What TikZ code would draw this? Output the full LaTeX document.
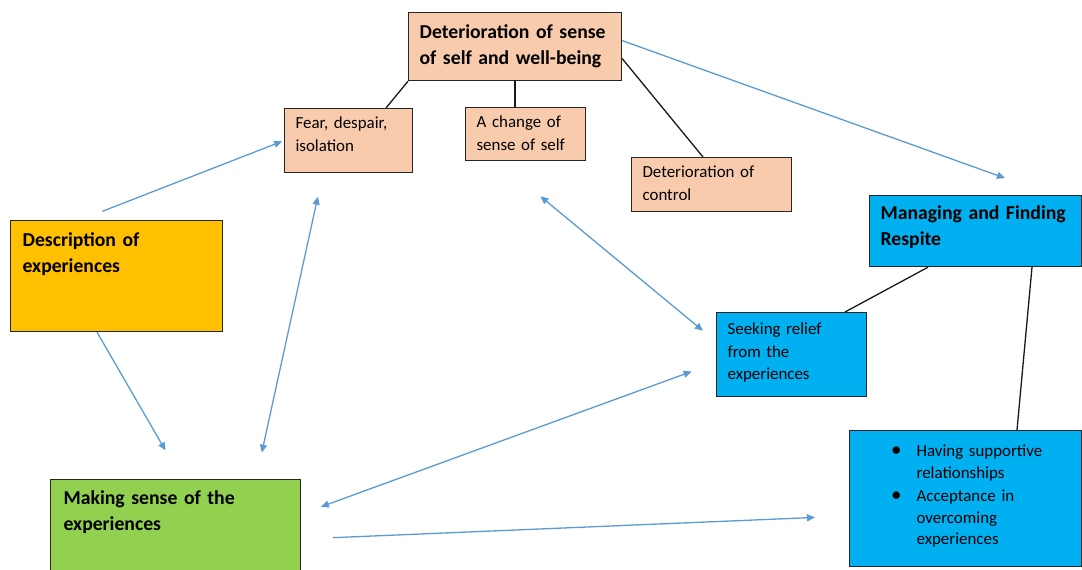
\documentclass[tikz,border=0pt]{standalone}
\usepackage{fontspec}
\setmainfont{Carlito}
\usetikzlibrary{arrows.meta}
\definecolor{Peach}{HTML}{F8CBAD}
\definecolor{Sky}{HTML}{00B0F0}
\definecolor{Amber}{HTML}{FFC000}
\definecolor{Lime}{HTML}{92D050}
\definecolor{LinkBlue}{HTML}{5B9BD5}
\tikzset{
  box/.style={draw=black!85, line width=1.2pt, anchor=north west, inner xsep=11pt, inner ysep=8pt, align=left},
  head/.style={font=\fontsize{19.7}{26}\selectfont\bfseries},
  body/.style={font=\fontsize{16.9}{22.5}\selectfont},
  link/.style={draw=black!90, line width=1.3pt},
  arr/.style={draw=LinkBlue, line width=1.3pt, -{Triangle[length=8pt,width=7pt]}},
  arrs/.style={draw=LinkBlue, line width=1.3pt, {Triangle[length=8pt,width=7pt]}-{Triangle[length=8pt,width=7pt]}},
}

\begin{document}
\begin{tikzpicture}[x=1pt,y=-1pt]
    \useasboundingbox (0,0) rectangle (1082,570);

    \node[box, head, fill=Peach, text width=191pt, text height=18pt, text depth=34pt] (top) at (408,12) {Deterioration of sense\\of self and well-being};
    \node[box, body, fill=Peach, text width=106pt, text height=12pt, text depth=36pt] (fear) at (284,108) {Fear, despair,\\isolation};
    \node[box, body, fill=Peach, text width=98pt, text height=12pt, text depth=25pt] (change) at (465,107) {A change of\\sense of self};
    \node[box, body, fill=Peach, text width=138pt, text height=12pt, text depth=26pt] (control) at (631,157) {Deterioration of\\control};
    \node[box, head, fill=Sky, text width=190pt, text height=16pt, text depth=39pt] (manage) at (869,195) {Managing and Finding\\Respite};
    \node[box, body, fill=Sky, text width=128pt, text height=14pt, text depth=54pt] (seek) at (716,312) {Seeking relief\\from the\\experiences};
    \node[box, head, fill=Amber, inner xsep=12pt, text width=188pt, text height=18pt, text depth=77pt] (descr) at (10,220) {Description of\\experiences};
    \node[box, head, fill=Lime, inner xsep=13pt, text width=224pt, text height=17pt, text depth=67pt] (making) at (50,479) {Making sense of the\\experiences};
    \node[box, body, fill=Sky, inner xsep=0pt, text width=232pt, text height=18pt, text depth=102pt] (support) at (849,430)
      {{\fontsize{16.9}{21.5}\selectfont\leftskip=67pt
        \noindent\llap{{\fontsize{21}{21}\selectfont\textbullet}\hspace{15pt}}Having supportive\\relationships\par
        \vspace{2pt}\noindent\llap{{\fontsize{21}{21}\selectfont\textbullet}\hspace{15pt}}Acceptance in\\overcoming\\experiences\par}};

    \draw[link] (top.south west) -- ([xshift=102pt]fear.north west);
    \draw[link] (top.south) -- (top.south |- change.north);
    \draw[link] ([yshift=-12pt]top.east) -- ([xshift=72pt]control.north west);
    \draw[link] ([xshift=59pt]manage.south west) -- ([xshift=129pt]seek.north west);
    \draw[link] ([xshift=163pt]manage.south west) -- ([xshift=168pt]support.north west);

    \draw[arr, shorten <=24pt, shorten >=2pt] ([xshift=70pt]descr.north west) -- (fear.west);
    \draw[arr, shorten >=33pt] ([xshift=87pt]descr.south west) -- ([xshift=132pt]making.north west);
    \draw[arrs, shorten <=24pt, shorten >=27pt] ([xshift=39pt]fear.south west) -- ([xshift=206pt]making.north west);
    \draw[arr, shorten >=50pt] ([yshift=6pt]top.east) -- ([xshift=183pt]manage.north west);
    \draw[arrs, shorten <=55pt, shorten >=17pt] ([xshift=33pt]change.south west) -- ([yshift=13pt]seek.west);
    \draw[arrs, shorten <=26pt, shorten >=21pt] ([yshift=-8pt]seek.west) -- ([yshift=-35pt]making.north east);
    \draw[arr, shorten <=32pt, shorten >=34pt] ([yshift=-60pt]making.north east) -- ([yshift=-86pt]support.north west);
\end{tikzpicture}
\end{document}
